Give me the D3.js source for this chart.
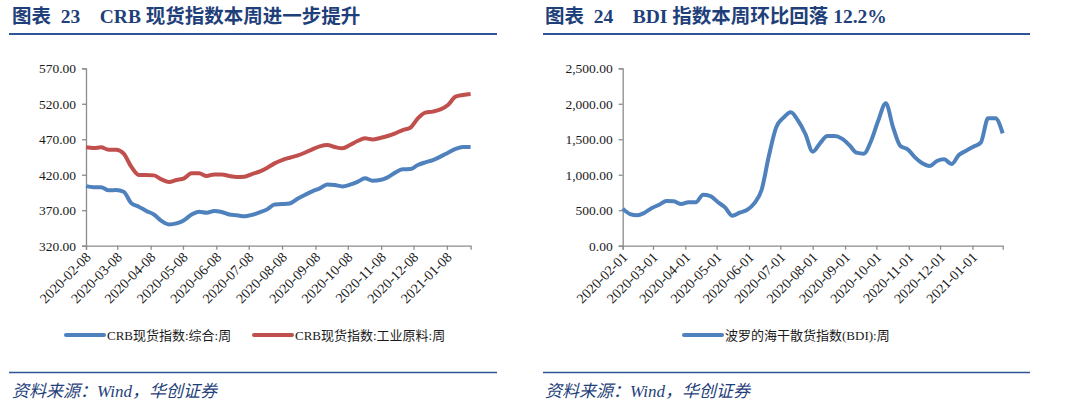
<!DOCTYPE html>
<html>
<head>
<meta charset="utf-8">
<script src="https://cdn.jsdelivr.net/npm/d3@7"></script>
<style>
  body { margin: 0; background: #fff; }
  svg { display: block; }
</style>
</head>
<body>
<script>
// Data (weekly).
const crbStart = '2020-02-08';
const crbComposite = [404, 402.5, 402.5, 398, 398.5, 396, 380, 375, 369, 364, 355, 350, 351.5, 356, 364, 368,
  366.5, 369, 367.5, 364, 363, 361.5, 363.5, 367, 371, 378.2, 378.7, 379.6, 385.8, 391.4, 396.6, 400.8,
  406.4, 405.5, 403.6, 406, 410, 414.9, 411.6, 412.5, 416.3, 423, 427.6, 428, 433.7, 437.5, 440.7, 445.5,
  451, 456.3, 459, 459];
const crbIndustrial = [458.6, 457.7, 458.6, 455.3, 455.3, 449.7, 431.4, 419.6, 419.6, 419.1, 413.5, 409.7,
  412.5, 414.9, 422, 422, 418.2, 420.5, 420.5, 418.2, 416.8, 417.2, 421, 424.3, 429.5, 436, 440.7, 444,
  446.9, 451, 455.8, 460, 461.9, 459, 457.2, 461.9, 467.5, 471.3, 469.8, 471.8, 474.6, 478.4, 483, 486.3,
  499.5, 507.5, 509, 512, 518.3, 530, 532.4, 533.8];
const crbTicks = ['2020-02-08', '2020-03-08', '2020-04-08', '2020-05-08', '2020-06-08', '2020-07-08',
  '2020-08-08', '2020-09-08', '2020-10-08', '2020-11-08', '2020-12-08', '2021-01-08'];
const crbYTicks = [320, 370, 420, 470, 520, 570];

const bdiStart = '2020-02-01';
const bdiValues = [522, 446, 428, 465, 531, 578, 630, 625, 587, 611, 611, 719, 700, 616, 540, 423, 465,
  503, 597, 785, 1264, 1668, 1804, 1880, 1762, 1574, 1325, 1443, 1546, 1546, 1509, 1419, 1311, 1297, 1480,
  1772, 2007, 1668, 1405, 1358, 1245, 1161, 1123, 1194, 1217, 1151, 1278, 1339, 1396, 1452, 1795, 1795, 1584];
const bdiTicks = ['2020-02-01', '2020-03-01', '2020-04-01', '2020-05-01', '2020-06-01', '2020-07-01',
  '2020-08-01', '2020-09-01', '2020-10-01', '2020-11-01', '2020-12-01', '2021-01-01'];
const bdiYTicks = [0, 500, 1000, 1500, 2000, 2500];

const blue = '#4f81bd';
const red = '#c0504d';
const navy = '#1f3f7a';
const serif = '"Liberation Serif", "Times New Roman", "Noto Sans CJK SC", serif';

const parseDate = d3.timeParse('%Y-%m-%d');

const width = 1080;
const height = 406;

const svg = d3.select('body')
  .append('svg')
  .attr('width', width)
  .attr('height', height);

// One chart panel.
function drawPanel(opts)
{
  const g = svg.append('g').attr('transform', 'translate(' + opts.offset + ',0)');

  // Title and rules.
  g.append('text')
    .attr('x', opts.titleX)
    .attr('y', 23)
    .style('font-family', serif)
    .style('font-weight', 'bold')
    .style('font-size', '19.5px')
    .style('white-space', 'pre')
    .style('fill', navy)
    .text(opts.title);

  g.append('line')
    .attr('x1', opts.ruleX0).attr('x2', opts.ruleX1)
    .attr('y1', 34).attr('y2', 34)
    .style('stroke', '#2f5597')
    .style('stroke-width', 2);

  g.append('line')
    .attr('x1', opts.ruleX0).attr('x2', opts.ruleX1)
    .attr('y1', 372.5).attr('y2', 372.5)
    .style('stroke', '#2f5597')
    .style('stroke-width', 1.5);

  g.append('text')
    .attr('x', opts.titleX)
    .attr('y', 397)
    .style('font-family', serif)
    .style('font-style', 'italic')
    .style('font-size', '17px')
    .style('fill', navy)
    .text('资料来源：Wind，华创证券');

  // Scales.
  const start = parseDate(opts.start);
  const dates = opts.series[0].values.map((v, i) => d3.timeDay.offset(start, 7 * i));
  const xScale = d3.scaleTime()
    .domain([start, dates[dates.length - 1]])
    .range([opts.x0, opts.x1]);
  const yScale = d3.scaleLinear()
    .domain(d3.extent(opts.yTicks))
    .range([245.7, 68.3]);

  // Axes.
  const yAxis = d3.axisLeft(yScale)
    .tickValues(opts.yTicks)
    .tickSize(4)
    .tickPadding(6)
    .tickFormat(d3.format(opts.yFormat));
  const yg = g.append('g')
    .attr('transform', 'translate(' + opts.x0 + ',0)')
    .call(yAxis);

  const xAxis = d3.axisBottom(xScale)
    .tickValues(opts.xTicks.map(parseDate))
    .tickSize(4)
    .tickFormat(d3.timeFormat('%Y-%m-%d'));
  const xg = g.append('g')
    .attr('transform', 'translate(0,245.7)')
    .call(xAxis);

  [xg, yg].forEach((a) =>
  {
    a.attr('font-family', null).attr('font-size', null);
    a.select('.domain').style('stroke', '#8c8c8c').style('stroke-width', 1.3);
    a.selectAll('.tick line').style('stroke', '#8c8c8c').style('stroke-width', 1.3);
    a.selectAll('text')
      .style('font-family', serif)
      .style('font-size', '13.5px')
      .style('fill', '#1a1a1a');
  });

  xg.selectAll('text')
    .style('font-size', '14px')
    .attr('text-anchor', 'end')
    .attr('dy', null)
    .attr('y', null)
    .attr('transform', 'translate(3,10) rotate(-45)')
    .attr('dominant-baseline', 'middle');

  // Lines.
  const line = d3.line()
    .x((d, i) => xScale(dates[i]))
    .y((d) => yScale(d))
    .curve(d3.curveMonotoneX);

  opts.series.forEach((s) =>
  {
    g.append('path')
      .datum(s.values)
      .attr('d', line)
      .style('fill', 'none')
      .style('stroke', s.color)
      .style('stroke-width', 4)
      .style('stroke-linejoin', 'round');
  });

  // Legend.
  opts.series.forEach((s) =>
  {
    g.append('line')
      .attr('x1', s.legendX).attr('x2', s.legendX + 38)
      .attr('y1', 335).attr('y2', 335)
      .style('stroke', s.color)
      .style('stroke-width', 4)
      .style('stroke-linecap', 'round');
    g.append('text')
      .attr('x', s.legendX + 41)
      .attr('y', 339.5)
      .style('font-family', serif)
      .style('font-size', '13px')
      .style('fill', '#1a1a1a')
      .text(s.name);
  });
}

drawPanel({
  offset: 0,
  title: '图表  23    CRB 现货指数本周进一步提升',
  titleX: 12,
  ruleX0: 9,
  ruleX1: 497,
  x0: 86,
  x1: 470.6,
  start: crbStart,
  xTicks: crbTicks,
  yTicks: crbYTicks,
  yFormat: '.2f',
  series: [
    { name: 'CRB现货指数:综合:周', values: crbComposite, color: blue, legendX: 66 },
    { name: 'CRB现货指数:工业原料:周', values: crbIndustrial, color: red, legendX: 254 }
  ]
});

drawPanel({
  offset: 540,
  title: '图表  24    BDI 指数本周环比回落 12.2%',
  titleX: 5,
  ruleX0: 3,
  ruleX1: 490,
  x0: 82.7,
  x1: 462.7,
  start: bdiStart,
  xTicks: bdiTicks,
  yTicks: bdiYTicks,
  yFormat: ',.2f',
  series: [
    { name: '波罗的海干散货指数(BDI):周', values: bdiValues, color: blue, legendX: 144 }
  ]
});
</script>
</body>
</html>
